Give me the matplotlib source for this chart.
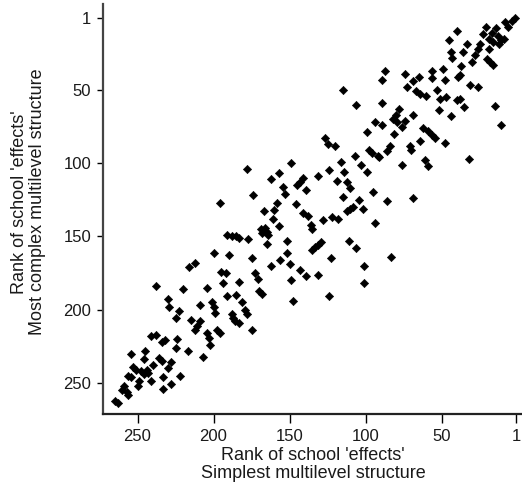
import matplotlib
matplotlib.use("Agg")
import matplotlib.pyplot as plt

plt.rcParams['font.family'] = ['Liberation Sans', 'DejaVu Sans']

# Rank of school 'effects' (simplest structure, x) vs (most complex structure, y)
rank_simple = [
    2, 4, 8, 6, 21, 14, 40, 23, 17, 13, 9, 11, 45, 19, 16, 33, 25, 12, 36, 44,
    26, 19, 43, 28, 30, 20, 18, 16, 37, 49, 56, 38, 87, 74, 56, 48, 39, 89, 69, 65,
    73, 67, 64, 60, 31, 26, 53, 51, 47, 40, 38, 35, 15, 52, 44, 69, 78, 80, 82, 79,
    89, 74, 76, 89, 11, 62, 59, 56, 54, 81, 64, 48, 71, 84,
    115, 106, 94, 99, 127, 125, 120,
    86, 70, 76, 61, 59, 32, 86, 69, 83,
    107, 98, 96, 92, 91, 178, 149, 162, 157, 141, 131, 124, 116, 103, 99, 114, 119, 112,
    145, 143, 154, 153, 139, 174, 115, 104, 95, 110, 158, 146, 167, 160, 141, 138, 112,
    110, 108, 102, 161, 157, 136, 135, 128, 122, 118, 94, 169, 166, 165, 168, 164, 177,
    165, 152, 111, 135, 133, 131, 129, 152, 106, 175, 156, 123, 162, 150, 101,
    196, 191, 188, 185, 183, 200, 190, 212, 216,
    173, 171, 143, 139, 131, 101, 149, 183, 170, 168, 148, 124, 181, 179, 178, 183, 175,
    195, 192, 238, 220, 204, 194, 185, 191, 230, 229, 223, 225, 209, 201, 200, 199, 215,
    209, 211, 212, 188, 187, 186, 204, 203, 202, 198, 196, 224, 225, 217, 207, 241, 238,
    234, 232, 254, 245, 246, 236, 234, 240, 228, 230, 253, 251, 248, 254, 256, 244, 243,
    246, 241, 249, 250, 233, 222, 228, 233, 259, 260, 257, 256, 265, 263,
]
rank_complex = [
    1, 3, 4, 7, 7, 8, 10, 12, 11, 13, 15, 16, 16, 15, 17, 19, 19, 19, 24, 24,
    22, 22, 28, 26, 31, 29, 31, 33, 34, 36, 37, 40, 37, 39, 42, 43, 41, 43, 44, 41,
    48, 51, 53, 54, 47, 48, 50, 56, 55, 57, 56, 62, 61, 64, 68, 67, 63, 67, 70, 72,
    59, 71, 75, 74, 74, 76, 78, 81, 83, 80, 85, 86, 88, 88,
    50, 60, 72, 79, 83, 87, 88,
    92, 91, 101, 98, 102, 97, 126, 124, 164,
    95, 91, 93, 95, 96, 104, 100, 111, 107, 110, 109, 105, 99, 101, 106, 106, 112, 113,
    115, 113, 116, 121, 118, 122, 123, 125, 120, 117, 127, 128, 133, 132, 134, 136, 133,
    131, 130, 131, 138, 143, 142, 145, 139, 137, 138, 141, 145, 144, 147, 148, 149, 152,
    155, 153, 153, 159, 157, 156, 154, 161, 158, 165, 166, 165, 170, 169, 170,
    127, 149, 150, 150, 151, 161, 163, 168, 171,
    175, 179, 173, 177, 176, 182, 180, 181, 187, 189, 194, 191, 195, 200, 203, 209, 214,
    174, 175, 184, 186, 185, 182, 190, 191, 193, 198, 201, 206, 197, 195, 198, 202, 207,
    208, 211, 214, 203, 206, 208, 216, 219, 224, 214, 216, 220, 226, 228, 232, 218, 217,
    222, 221, 230, 228, 234, 233, 235, 238, 236, 240, 239, 241, 242, 246, 245, 241, 243,
    244, 249, 249, 252, 246, 245, 251, 254, 252, 255, 256, 258, 262, 264,
]

x_ticks = [250, 200, 150, 100, 50, 1]
y_ticks = [1, 50, 100, 150, 200, 250]
x_title = ["Rank of school 'effects'", "Simplest multilevel structure"]
y_title = ["Rank of school 'effects'", "Most complex multilevel structure"]

W, H = 522, 486
fig = plt.figure(figsize=(W / 100, H / 100), dpi=100)
ax = fig.add_axes([103 / W, 1 - 414 / H, 1 - 103 / W, (414 - 4) / H])

ax.scatter(rank_simple, rank_complex, marker='D', s=18, c='black',
           edgecolors='black', linewidths=0.4, zorder=3)

ax.set_xlim(272.7, -2.9)
ax.set_ylim(271.2, -8.6)

ax.set_xticks(x_ticks)
ax.set_xticklabels([str(t) for t in x_ticks])
ax.set_yticks(y_ticks)
ax.set_yticklabels([str(t) for t in y_ticks])

txt_color = '#1a1a1a'
ax.tick_params(axis='x', direction='out', length=6.5, width=1.0, pad=4,
               labelsize=12, colors='black', labelcolor=txt_color)
ax.tick_params(axis='y', direction='out', length=4.5, width=1.0, pad=4,
               labelsize=12, colors='black', labelcolor=txt_color)

for side in ['top', 'right']:
    ax.spines[side].set_visible(False)
ax.spines['left'].set_color('#444444')
ax.spines['bottom'].set_color('#222222')
ax.spines['left'].set_linewidth(1.6)
ax.spines['bottom'].set_linewidth(1.6)

fig.text(313 / W, 1 - 456 / H, x_title[0], ha='center', va='center',
         fontsize=13, color=txt_color)
fig.text(313 / W, 1 - 473 / H, x_title[1], ha='center', va='center',
         fontsize=13, color=txt_color)
fig.text(20 / W, 1 - 202 / H, y_title[0], ha='center', va='center',
         rotation=90, fontsize=13, color=txt_color)
fig.text(38 / W, 1 - 202 / H, y_title[1], ha='center', va='center',
         rotation=90, fontsize=13, color=txt_color)

fig.savefig('out.png', dpi=100)
